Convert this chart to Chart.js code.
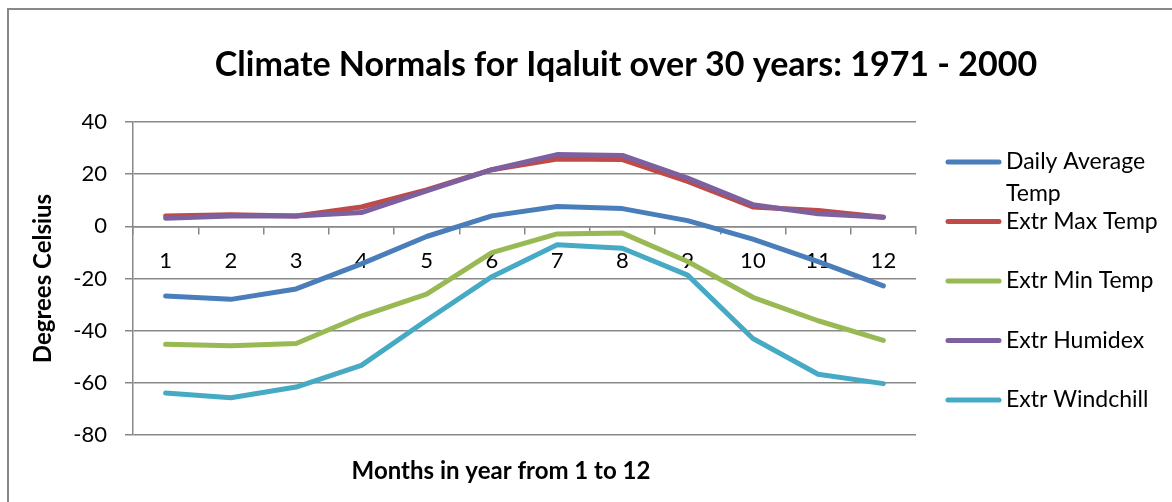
<!DOCTYPE html>
<html>
<head>
<meta charset="utf-8">
<script src="https://cdn.jsdelivr.net/npm/chart.js@4/dist/chart.umd.min.js"></script>
<style>
  body { margin: 0; background: #fff; }
  canvas { display: block; }
</style>
</head>
<body>
<canvas id="climateChart" width="1172" height="502"></canvas>
<script>
// ====== Data ======
const months = ["1", "2", "3", "4", "5", "6", "7", "8", "9", "10", "11", "12"];
const dailyAvg = [-26.7, -28, -24, -14.4, -3.9, 4.0, 7.6, 6.8, 2.2, -4.9, -13.5, -22.8];
const extrMax = [4.0, 4.4, 4.0, 7.4, 14.0, 21.7, 25.8, 25.6, 17.2, 7.4, 6.1, 3.5];
const extrMin = [-45.2, -45.8, -44.9, -34.4, -26, -10.1, -2.9, -2.6, -13.5, -27.2, -36.2, -43.7];
const extrHumidex = [3.1, 4.0, 4.0, 5.3, 13.6, 21.7, 27.5, 27.2, 18.5, 8.3, 4.8, 3.5];
const extrWindchill = [-63.9, -65.7, -61.6, -53.3, -36, -19.3, -7.1, -8.4, -18.7, -43.0, -56.7, -60.3];
const yTicks = [-80, -60, -40, -20, 0, 20, 40];

const seriesNames = ["Daily Average Temp", "Extr Max Temp", "Extr Min Temp", "Extr Humidex", "Extr Windchill"];
const seriesColors = ["#4A7EBB", "#BE4B48", "#98B954", "#7D60A0", "#46AAC5"];
const seriesData = [dailyAvg, extrMax, extrMin, extrHumidex, extrWindchill];

const FONT = "Lato, 'Open Sans', sans-serif";
const GRID = "#888888";

// ====== Title, x-axis title, legend, frame ======
const decor = {
    id: "decor",
    afterDraw(chart) {
        const c = chart.ctx;
        c.save();
        // outer frame
        c.strokeStyle = GRID;
        c.lineWidth = 2;
        c.beginPath();
        c.moveTo(8, 510);
        c.lineTo(8, 9);
        c.lineTo(1180, 9);
        c.stroke();

        c.fillStyle = "#000";
        c.textAlign = "center";
        c.textBaseline = "middle";
        c.font = "bold 34px " + FONT;
        c.fillText("Climate Normals for Iqaluit over 30 years: 1971 - 2000", 626, 65);

        c.font = "bold 24px " + FONT;
        c.fillText("Months in year from 1 to 12", 501, 471);

        // legend
        const rows = [162, 221.5, 281, 340.5, 400];
        c.textAlign = "left";
        c.font = "23px " + FONT;
        chart.data.datasets.forEach((ds, i) => {
            const y = rows[i];
            c.strokeStyle = ds.borderColor;
            c.lineWidth = 5;
            c.lineCap = "round";
            c.beginPath();
            c.moveTo(948, y);
            c.lineTo(999, y);
            c.stroke();
            if (i === 0) {
                c.fillText("Daily Average", 1006, y);
                c.fillText("Temp", 1006, y + 32);
            } else {
                c.fillText(ds.label, 1006, y);
            }
        });
        c.restore();
    }
};

// ====== Chart ======
new Chart(document.getElementById("climateChart"), {
    type: "line",
    data: {
        labels: months,
        datasets: seriesNames.map((name, i) => ({
            label: name,
            data: seriesData[i],
            borderColor: seriesColors[i],
            backgroundColor: seriesColors[i],
            borderWidth: 5,
            borderCapStyle: "round",
            borderJoinStyle: "round",
            pointRadius: 0,
            tension: 0,
            order: seriesNames.length - i,
        })),
    },
    options: {
        responsive: false,
        animation: false,
        devicePixelRatio: 1,
        layout: { padding: { top: 122, bottom: 67, left: 0, right: 256 } },
        plugins: {
            legend: { display: false },
            title: { display: false },
            tooltip: { enabled: false },
        },
        scales: {
            x: {
                type: "category",
                offset: true,
                position: { y: 0 },
                grid: {
                    offset: true,
                    drawOnChartArea: false,
                    drawTicks: true,
                    tickLength: 7,
                    color: GRID,
                    lineWidth: 1.5,
                },
                border: { color: GRID, width: 1.5 },
                ticks: {
                    color: "#000",
                    font: { family: FONT, size: 22 },
                    padding: 14,
                    maxRotation: 0,
                    autoSkip: false,
                },
            },
            y: {
                min: -80,
                max: 40,
                afterBuildTicks: s => { s.ticks = yTicks.map(v => ({ value: v })); },
                afterFit: s => { s.width = 133; },
                grid: { color: GRID, lineWidth: 1.5, tickLength: 8 },
                border: { color: GRID, width: 1.5 },
                ticks: {
                    color: "#000",
                    font: { family: FONT, size: 22 },
                    padding: 18,
                },
                title: {
                    display: true,
                    text: "Degrees Celsius",
                    color: "#000",
                    font: { family: FONT, size: 24, weight: "bold" },
                    padding: { top: 29, bottom: 0 },
                },
            },
        },
    },
    plugins: [decor],
});
</script>
</body>
</html>
